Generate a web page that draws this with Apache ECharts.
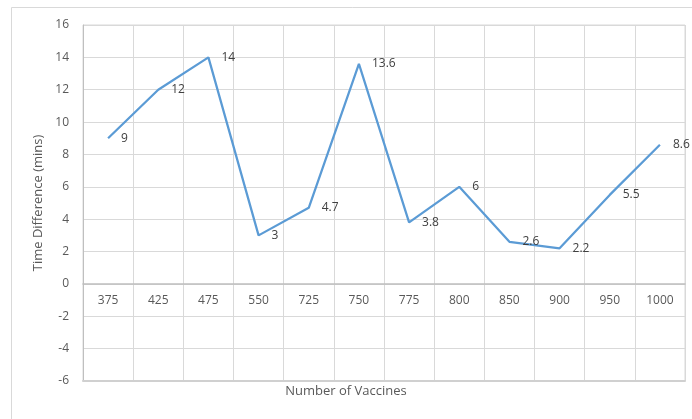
<!DOCTYPE html>
<html><head><meta charset="utf-8">
<script src="https://cdn.jsdelivr.net/npm/echarts@6/dist/echarts.min.js"></script>
<style>html,body{margin:0;padding:0;background:#fff}#c{width:692px;height:419px}</style>
</head><body><div id="c"></div>
<script>
const categories = ['375','425','475','550','725','750','775','800','850','900','950','1000'];
const values = [9, 12, 14, 3, 4.7, 13.6, 3.8, 6, 2.6, 2.2, 5.5, 8.6];
const yTicks = {min: -6, max: 16, interval: 2};
const xTitle = 'Number of Vaccines';
const yTitle = 'Time Difference (mins)';

const font = 'Open Sans, Noto Sans, sans-serif';
const gridTop = 25, gridBottom = 38, H = 419;
const plotH = H - gridTop - gridBottom;
const zeroOffset = -plotH * (0 - yTicks.min) / (yTicks.max - yTicks.min);

const chart = echarts.init(document.getElementById('c'), null, {renderer: 'canvas'});
chart.setOption({
  animation: false,
  backgroundColor: '#fff',
  grid: {left: 83, right: 7, top: gridTop, bottom: gridBottom, containLabel: false,
         show: true, borderColor: '#d9d9d9', borderWidth: 1, backgroundColor: 'rgba(0,0,0,0)'},
  graphic: [
    {type: 'rect', shape: {x: 11.5, y: 7.5, width: 700, height: 430}, style: {fill: 'none', stroke: '#d9d9d9', lineWidth: 1}, silent: true},
    {type: 'text', left: 'center', top: 385, style: {text: xTitle, fill: '#595959', font: '13px ' + font}},
  ],
  xAxis: [{
    type: 'category', data: categories, boundaryGap: true,
    position: 'bottom', offset: zeroOffset,
    axisLine: {onZero: false, lineStyle: {color: '#bfbfbf', width: 1.5}},
    axisTick: {show: false},
    axisLabel: {color: '#595959', fontFamily: font, fontSize: 12, margin: 11},
    splitLine: {show: true, lineStyle: {color: '#d9d9d9'}}
  }, {
    type: 'category', data: categories, boundaryGap: true,
    position: 'bottom', offset: 0,
    axisLine: {show: true, onZero: false, lineStyle: {color: '#d0d0d0', width: 2}},
    axisTick: {show: false}, axisLabel: {show: false}, splitLine: {show: false}
  }],
  yAxis: {
    type: 'value', min: yTicks.min, max: yTicks.max, interval: yTicks.interval,
    name: yTitle, nameLocation: 'middle', nameGap: 33, nameRotate: 90,
    nameTextStyle: {color: '#595959', fontFamily: font, fontSize: 13},
    axisLine: {show: true, lineStyle: {color: '#bfbfbf', width: 1}},
    axisTick: {show: false},
    axisLabel: {color: '#595959', fontFamily: font, fontSize: 12, margin: 14},
    splitLine: {show: true, showMinLine: true, lineStyle: {color: '#d9d9d9'}}
  },
  series: [{
    type: 'line', data: values, symbol: 'circle', symbolSize: 2, showSymbol: true,
    xAxisIndex: 0,
    itemStyle: {color: 'rgba(91,155,213,0)', borderWidth: 0},
    lineStyle: {color: '#5b9bd5', width: 2.25},
    label: {show: true, position: 'right', distance: 12, color: '#404040', fontFamily: font, fontSize: 12},
    labelLayout: {hideOverlap: false}
  }]
});
</script></body></html>
